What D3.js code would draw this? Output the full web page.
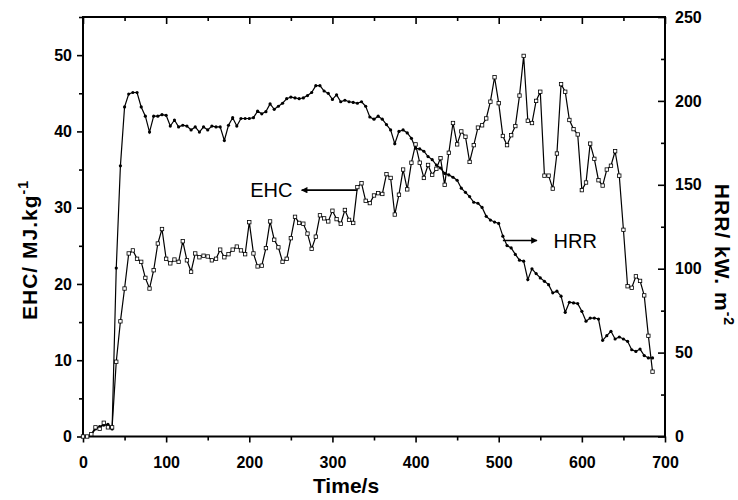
<!DOCTYPE html>
<html>
<head>
<meta charset="utf-8">
<script src="https://cdn.jsdelivr.net/npm/d3@7"></script>
<style>
body { margin: 0; background: #fff; }
text { font-family: Arial, "Liberation Sans", sans-serif; fill: #000; }
.tick text { font-size: 16px; font-weight: bold; }
</style>
</head>
<body>
<div id="grafico"></div>
<script>
// time in seconds (one reading every 5 s)
var tempo = [0,5,10,15,20,25,30,35,40,45,50,55,60,65,70,75,80,85,90,95,
  100,105,110,115,120,125,130,135,140,145,150,155,160,165,170,175,180,185,190,195,
  200,205,210,215,220,225,230,235,240,245,250,255,260,265,270,275,280,285,290,295,
  300,305,310,315,320,325,330,335,340,345,350,355,360,365,370,375,380,385,390,395,
  400,405,410,415,420,425,430,435,440,445,450,455,460,465,470,475,480,485,490,495,
  500,505,510,515,520,525,530,535,540,545,550,555,560,565,570,575,580,585,590,595,
  600,605,610,615,620,625,630,635,640,645,650,655,660,665,670,675,680,685];

// effective heat of combustion, MJ/kg (left axis)
var ehc = [0,0,0.3,1.2,1.0,1.8,1.2,1.2,9.8,15.1,19.4,24.0,24.4,23.3,22.9,20.8,19.4,21.8,25.3,27.2,
  23.3,22.7,23.2,22.9,25.6,23.1,21.6,24.0,23.5,23.7,23.6,23.1,23.3,24.5,23.5,23.9,24.5,24.9,24.4,23.9,
  28.1,24.0,22.3,22.4,24.7,28.2,25.8,24.8,22.9,23.3,26.0,28.8,28.0,27.9,26.6,24.6,26.2,29.0,28.6,28.2,
  29.6,28.5,27.9,29.7,28.4,28.0,32.7,33.2,30.9,30.6,31.6,31.9,31.8,34.4,33.9,29.1,31.7,35.0,32.4,35.9,
  38.3,35.9,33.9,35.6,34.3,35.1,36.5,33.0,37.2,41.1,38.3,40.0,39.3,36.0,38.2,40.5,40.8,41.7,43.9,47.1,
  43.7,39.4,38.2,39.5,40.7,44.7,49.9,41.4,41.1,44.0,45.2,34.2,34.2,32.5,37.1,46.2,45.2,41.5,40.3,39.6,
  32.3,33.3,38.4,36.4,33.6,32.9,35.0,35.5,37.4,34.2,27.1,19.7,19.5,21.0,20.4,18.5,13.2,8.5];

// heat release rate, kW/m2 (right axis)
var hrr = [0,0,0.9,4.5,5.9,6.8,7.3,4.5,100.4,161.3,196.4,204.1,205.0,205.0,196.4,190.9,181.4,190.9,190.9,191.8,
  191.4,185.0,188.6,184.5,185.5,185.0,182.7,184.5,181.4,184.5,182.7,185.0,184.5,184.5,176.4,185.5,190.0,185.0,189.5,189.5,
  189.5,190.0,193.9,192.3,193.6,198.2,195.0,196.8,198.6,201.3,202.3,201.8,201.3,201.8,203.2,205.0,209.1,209.1,205.9,204.5,
  200.9,203.6,199.5,200.4,199.5,199.1,198.6,199.5,196.8,190.4,189.1,190.9,189.1,185.9,182.7,174.5,181.8,182.7,180.9,177.7,
  171.8,171.4,170.0,166.8,165.0,161.8,160.0,156.8,155.9,154.5,152.7,148.0,145.5,143.0,139.6,139.0,136.5,131.2,129.0,127.8,
  127.0,119.4,113.8,112.4,108.5,105.1,104.5,93.5,99.9,97.1,94.5,92.5,90.5,85.6,86.6,83.6,74.0,80.0,79.6,79.2,
  74.6,68.7,70.6,70.6,70.0,57.3,60.1,62.7,58.1,59.3,58.1,56.7,51.7,50.7,52.1,48.2,46.8,46.8];

var x_ticks = [0,100,200,300,400,500,600,700];
var y_ticks = [0,10,20,30,40,50];
var y2_ticks = [0,50,100,150,200,250];

var width = 738;
var height = 500;
var margin = {top: 17, right: 73, bottom: 63.5, left: 83};
var w = width - margin.left - margin.right;
var h = height - margin.top - margin.bottom;

var svg = d3.select("#grafico")
            .append("svg")
            .attr("width", width)
            .attr("height", height);

var g = svg.append("g")
           .attr("transform", "translate(" + margin.left + "," + margin.top + ")");

var x = d3.scaleLinear().domain([0, 700]).range([0, w]);
var y = d3.scaleLinear().domain([0, 55]).range([h, 0]);
var y2 = d3.scaleLinear().domain([0, 250]).range([h, 0]);

// minor ticks first, then the labelled ones
function eixo(axis, values, size, transform){
    g.append("g")
     .attr("class", "minor")
     .attr("transform", transform)
     .call(axis.tickValues(values).tickSize(size).tickFormat(""));
}

eixo(d3.axisBottom(x), [50,150,250,350,450,550,650], 4, "translate(0," + h + ")");
eixo(d3.axisTop(x), [50,150,250,350,450,550,650], -4, "translate(0,0)");
eixo(d3.axisTop(x), x_ticks, -7, "translate(0,0)");
eixo(d3.axisLeft(y), [5,15,25,35,45,55], 4, "translate(0,0)");
eixo(d3.axisRight(y2), [25,75,125,175,225], -4, "translate(" + w + ",0)");

g.append("g")
 .attr("class", "x axis")
 .attr("transform", "translate(0," + h + ")")
 .call(d3.axisBottom(x).tickValues(x_ticks).tickSize(6).tickPadding(14));

g.append("g")
 .attr("class", "y axis")
 .call(d3.axisLeft(y).tickValues(y_ticks).tickSize(6).tickPadding(5));

g.append("g")
 .attr("class", "y2 axis")
 .attr("transform", "translate(" + w + ",0)")
 .call(d3.axisRight(y2).tickValues(y2_ticks).tickSize(-7).tickPadding(10));

g.selectAll(".domain").remove();
g.selectAll(".tick line").attr("stroke", "#000").attr("stroke-width", 1.6);

// frame
g.append("rect")
 .attr("width", w)
 .attr("height", h)
 .attr("fill", "none")
 .attr("stroke", "#000")
 .attr("stroke-width", 2);

// series
var dados = tempo.map(function(t, i){ return {t: t, ehc: ehc[i], hrr: hrr[i]}; });

var linha_ehc = d3.line().x(function(d){ return x(d.t); }).y(function(d){ return y(d.ehc); });
var linha_hrr = d3.line().x(function(d){ return x(d.t); }).y(function(d){ return y2(d.hrr); });

g.append("path")
 .datum(dados)
 .attr("d", linha_hrr)
 .attr("fill", "none")
 .attr("stroke", "#000")
 .attr("stroke-width", 1.2);

g.append("path")
 .datum(dados)
 .attr("d", linha_ehc)
 .attr("fill", "none")
 .attr("stroke", "#000")
 .attr("stroke-width", 1.2);

g.append("g")
 .selectAll("circle")
 .data(dados)
 .enter()
 .append("circle")
 .attr("cx", function(d){ return x(d.t); })
 .attr("cy", function(d){ return y2(d.hrr); })
 .attr("r", 1.6)
 .attr("fill", "#000");

g.append("g")
 .selectAll("rect")
 .data(dados)
 .enter()
 .append("rect")
 .attr("x", function(d){ return x(d.t) - 1.7; })
 .attr("y", function(d){ return y(d.ehc) - 1.7; })
 .attr("width", 3.4)
 .attr("height", 3.4)
 .attr("fill", "#fff")
 .attr("stroke", "#000")
 .attr("stroke-width", 0.8);

// arrows for the labels
svg.append("defs")
   .append("marker")
   .attr("id", "seta")
   .attr("viewBox", "0 0 10 10")
   .attr("refX", 9)
   .attr("refY", 5)
   .attr("markerWidth", 5)
   .attr("markerHeight", 4)
   .attr("orient", "auto")
   .append("path")
   .attr("d", "M0,0L10,5L0,10z")
   .attr("fill", "#000");

g.append("line")
 .attr("x1", x(330)).attr("y1", y(32.3))
 .attr("x2", x(263)).attr("y2", y(32.3))
 .attr("stroke", "#000").attr("stroke-width", 1.6)
 .attr("marker-end", "url(#seta)");

g.append("text")
 .attr("x", x(252)).attr("y", y(32.3))
 .attr("dy", "0.36em")
 .attr("text-anchor", "end")
 .style("font-size", "20px")
 .text("EHC");

g.append("line")
 .attr("x1", x(505)).attr("y1", y2(116.8))
 .attr("x2", x(546)).attr("y2", y2(116.8))
 .attr("stroke", "#000").attr("stroke-width", 1.6)
 .attr("marker-end", "url(#seta)");

g.append("text")
 .attr("x", x(566)).attr("y", y2(116.8))
 .attr("dy", "0.36em")
 .style("font-size", "20px")
 .text("HRR");

// axis titles
svg.append("text")
   .attr("x", 346)
   .attr("y", 493)
   .attr("text-anchor", "middle")
   .style("font-size", "21px")
   .style("font-weight", "bold")
   .text("Time/s");

var t1 = svg.append("text")
   .attr("transform", "translate(37,250) rotate(-90)")
   .attr("text-anchor", "middle")
   .style("font-size", "21px")
   .style("font-weight", "bold")
   .style("letter-spacing", "1px");
t1.append("tspan").text("EHC/ MJ.kg");
t1.append("tspan").attr("dy", -9).style("font-size", "14px").text("-1");

var t2 = svg.append("text")
   .attr("transform", "translate(715,255) rotate(90)")
   .attr("text-anchor", "middle")
   .style("font-size", "21px")
   .style("font-weight", "bold")
   .style("letter-spacing", "1px");
t2.append("tspan").text("HRR/ kW. m");
t2.append("tspan").attr("dy", -9).style("font-size", "14px").text("-2");
</script>
</body>
</html>
